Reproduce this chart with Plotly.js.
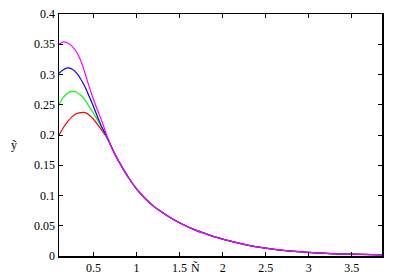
<!DOCTYPE html>
<html>
<head>
<meta charset="utf-8">
<script src="https://cdn.plot.ly/plotly-3.0.1.min.js"></script>
<style>html,body{margin:0;padding:0;background:#fff;}#plot{width:399px;height:279px;}</style>
</head>
<body>
<div id="plot"></div>
<script>
// Head section (curves differ), x values
var headX = [0.1, 0.15, 0.2, 0.25, 0.3, 0.35, 0.4, 0.45, 0.5, 0.55, 0.6, 0.65];
var magentaHead = [0.350, 0.354, 0.352, 0.347, 0.338, 0.324, 0.303, 0.280, 0.259, 0.240, 0.222, 0.201];
var blueHead    = [0.302, 0.308, 0.311, 0.309, 0.303, 0.293, 0.280, 0.264, 0.247, 0.229, 0.212, 0.199];
var greenHead   = [0.250, 0.262, 0.269, 0.272, 0.271, 0.266, 0.258, 0.247, 0.236, 0.224, 0.212, 0.198];
var redHead     = [0.200, 0.212, 0.222, 0.230, 0.235, 0.237, 0.237, 0.233, 0.226, 0.217, 0.207, 0.197];
// Common tail (curves coincide)
var tailX = [0.7, 0.75, 0.8, 0.9, 1.0, 1.1, 1.2, 1.3, 1.4, 1.5, 1.6, 1.7, 1.8, 1.9, 2.0, 2.2, 2.4, 2.6, 2.8, 3.0, 3.25, 3.5, 3.85];
var tailY = [0.183, 0.168, 0.155, 0.131, 0.111, 0.095, 0.082, 0.072, 0.063, 0.055, 0.048, 0.042, 0.037, 0.032, 0.028, 0.021, 0.015, 0.011, 0.008, 0.006, 0.004, 0.003, 0.002];

var seriesNames = ['red', 'green', 'blue', 'magenta'];
var seriesHeads = [redHead, greenHead, blueHead, magentaHead];
var seriesColors = ['#ff0000', '#00ff00', '#0000ff', '#ff00ff'];

var xTickVals = [0.5, 1, 1.5, 2, 2.5, 3, 3.5];
var xTickText = ['0.5', '1', '1.5', '2', '2.5', '3', '3.5'];
var yTickVals = [0, 0.05, 0.1, 0.15, 0.2, 0.25, 0.3, 0.35, 0.4];
var yTickText = ['0', '0.05', '0.1', '0.15', '0.2', '0.25', '0.3', '0.35', '0.4'];

var traces = seriesHeads.map(function (h, i) {
  return {
    x: headX.concat(tailX),
    y: h.concat(tailY),
    type: 'scatter',
    mode: 'lines',
    name: seriesNames[i],
    line: {color: seriesColors[i], width: 1.2, shape: 'spline', smoothing: 1},
    hoverinfo: 'skip'
  };
});

var fam = 'Times New Roman, Liberation Serif, DejaVu Serif, serif';
var font = {family: fam, size: 12, color: '#000'};

var layout = {
  width: 399, height: 279,
  margin: {l: 59, r: 17, t: 14, b: 23, pad: 0},
  paper_bgcolor: '#fff', plot_bgcolor: '#fff',
  showlegend: false,
  font: font,
  xaxis: {
    range: [0.1, 3.85], tickmode: 'array', tickvals: xTickVals, ticktext: xTickText,
    ticks: 'inside', ticklen: 4, tickwidth: 1, tickcolor: '#000',
    showline: true, linecolor: '#000', linewidth: 1.5, mirror: 'ticks',
    showgrid: false, zeroline: false, tickfont: font
  },
  yaxis: {
    range: [0, 0.4], tickmode: 'array', tickvals: yTickVals, ticktext: yTickText,
    ticks: 'inside', ticklen: 4, tickwidth: 1, tickcolor: '#000',
    showline: true, linecolor: '#000', linewidth: 1.5, mirror: 'ticks',
    showgrid: false, zeroline: false, tickfont: font
  },
  annotations: [
    {text: 'ỹ', xref: 'paper', yref: 'paper', x: -0.14, y: 0.46, showarrow: false,
     font: {family: fam, size: 12, color: '#000'}, xanchor: 'center', yanchor: 'middle'},
    {text: 'Ñ', xref: 'paper', yref: 'paper', x: 0.422, y: -0.05, showarrow: false,
     font: {family: fam, size: 12, color: '#000'}, xanchor: 'center', yanchor: 'middle'}
  ]
};

Plotly.newPlot('plot', traces, layout, {staticPlot: true, displayModeBar: false});
</script>
</body>
</html>
